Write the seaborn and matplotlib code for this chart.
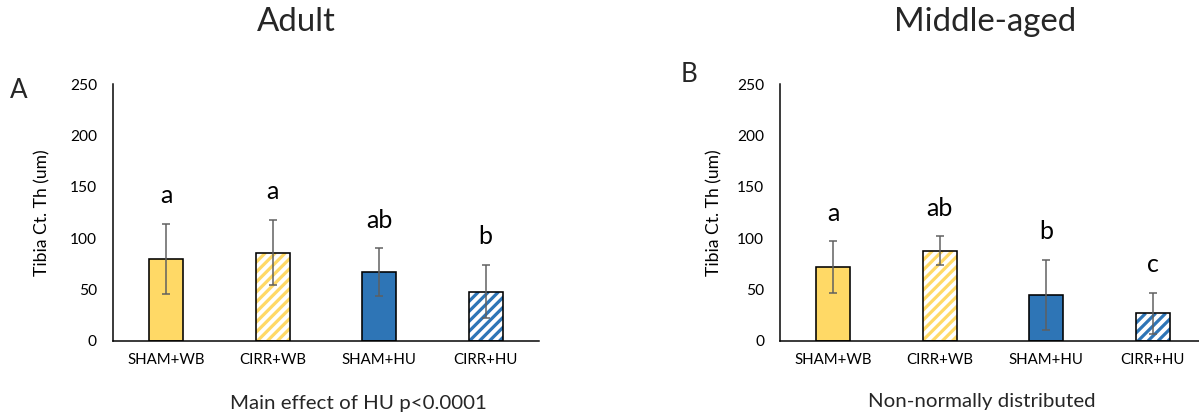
import matplotlib
matplotlib.use("Agg")
import matplotlib.pyplot as plt
import seaborn as sns
import pandas as pd
import numpy as np

# ---- data -------------------------------------------------------------
groups = ["SHAM+WB", "CIRR+WB", "SHAM+HU", "CIRR+HU"]

adult_mean = [80, 86, 67, 48]
adult_sd = [34, 32, 23, 26]
adult_letters = ["a", "a", "ab", "b"]

middle_mean = [72, 88, 45, 27]
middle_sd = [25, 14, 34, 20]
middle_letters = ["a", "ab", "b", "c"]

y_ticks = [0, 50, 100, 150, 200, 250]
y_label = "Tibia Ct. Th (um)"

# ---- style ------------------------------------------------------------
DPI = 100
W, H = 1199, 416


def pt(px):
    """Pixel size -> points at the figure dpi."""
    return px * 72.0 / DPI


sns.set_theme(style="white")
plt.rcParams["font.family"] = ["Lato", "DejaVu Sans"]

YELLOW = "#FFD966"
BLUE = "#2E75B6"
fills = [YELLOW, YELLOW, BLUE, BLUE]
hatched = [False, True, False, True]
ERR = "#5f5f5f"

fig = plt.figure(figsize=(W / DPI, H / DPI), dpi=DPI)
fig.patch.set_facecolor("white")

ax_pos = [
    [113 / W, 75 / H, 426 / W, 257 / H],
    [780 / W, 75 / H, 426 / W, 257 / H],
]


def stripe(ax, patch, color, gap_px=10.0, lw_px=3.2):
    """Fill a bar with 45-degree stripes clipped to its outline."""
    to_px = ax.transData
    back = to_px.inverted()
    x0, y0 = patch.get_x(), patch.get_y()
    (px0, py0) = to_px.transform((x0, y0))
    (px1, py1) = to_px.transform((x0 + patch.get_width(), y0 + patch.get_height()))
    rise = py1 - py0
    for start in np.arange(px0 - rise, px1 + gap_px, gap_px):
        seg = back.transform([(start, py0), (start + rise, py1)])
        line, = ax.plot(seg[:, 0], seg[:, 1], color=color, lw=pt(lw_px),
                        solid_capstyle="butt", zorder=2.5)
        line.set_clip_path(patch)


def panel(ax, means, sds, letters, ylab_x):
    df = pd.DataFrame({"group": groups, "value": means})
    ax.set_ylim(0, 250)
    ax.set_xlim(-0.5, 3.5)
    # coloured fills (solid or striped)
    sns.barplot(data=df, x="group", y="value", hue="group",
                palette=dict(zip(groups, fills)), width=0.32, saturation=1,
                errorbar=None, legend=False, ax=ax, zorder=2)
    ax.set_xlim(-0.5, 3.5)
    ax.set_ylim(0, 250)
    bars = list(ax.patches)
    for patch, col, hat in zip(bars, fills, hatched):
        patch.set_linewidth(0)
        if hat:
            patch.set_facecolor("white")
            stripe(ax, patch, col)
    # black outlines on top
    sns.barplot(data=df, x="group", y="value", color="black", fill=False,
                width=0.32, errorbar=None, linewidth=pt(1.6), ax=ax, zorder=3)
    # standard deviation bars
    ax.errorbar(x=range(len(groups)), y=means, yerr=sds, fmt="none",
                ecolor=ERR, elinewidth=pt(1.5), capsize=pt(4),
                capthick=pt(1.5), zorder=4)
    # significance letters
    for i, (m, s, lab) in enumerate(zip(means, sds, letters)):
        ax.text(i, m + s + 20, lab, ha="center", va="baseline",
                fontsize=pt(25), color="black")

    ax.set_ylim(0, 250)
    ax.set_xlim(-0.5, 3.5)
    ax.set_yticks(y_ticks)
    ax.set_yticklabels([str(t) for t in y_ticks])
    ax.tick_params(axis="both", length=0, labelsize=pt(15.5), colors="black")
    ax.tick_params(axis="y", pad=pt(16))
    ax.tick_params(axis="x", pad=pt(12))
    for lab in ax.get_xticklabels():
        lab.set_fontsize(pt(15))
    ax.set_xlabel("")
    ax.set_ylabel(y_label, fontsize=pt(17.5), color="black")
    ax.yaxis.set_label_coords(ylab_x, 0.5)
    for side in ("top", "right"):
        ax.spines[side].set_visible(False)
    for side in ("left", "bottom"):
        ax.spines[side].set_color("black")
        ax.spines[side].set_linewidth(pt(1.5))
    ax.set_facecolor("white")
    ax.grid(False)


ax1 = fig.add_axes(ax_pos[0])
panel(ax1, adult_mean, adult_sd, adult_letters, -0.148)
ax2 = fig.add_axes(ax_pos[1])
panel(ax2, middle_mean, middle_sd, middle_letters, -0.136)

# titles, panel tags and footnotes
fig.text(296 / W, 1 - 22 / H, "Adult", ha="center", va="center", fontsize=pt(33))
fig.text(985 / W, 1 - 22 / H, "Middle-aged", ha="center", va="center", fontsize=pt(33))
fig.text(19 / W, 1 - 90 / H, "A", ha="center", va="center", fontsize=pt(26))
fig.text(689 / W, 1 - 75 / H, "B", ha="center", va="center", fontsize=pt(26))
fig.text(358 / W, 1 - 403 / H, "Main effect of HU p<0.0001", ha="center",
         va="center", fontsize=pt(20.5))
fig.text(982 / W, 1 - 402 / H, "Non-normally distributed", ha="center",
         va="center", fontsize=pt(20.5))

fig.savefig("out.png", dpi=DPI, facecolor="white")
